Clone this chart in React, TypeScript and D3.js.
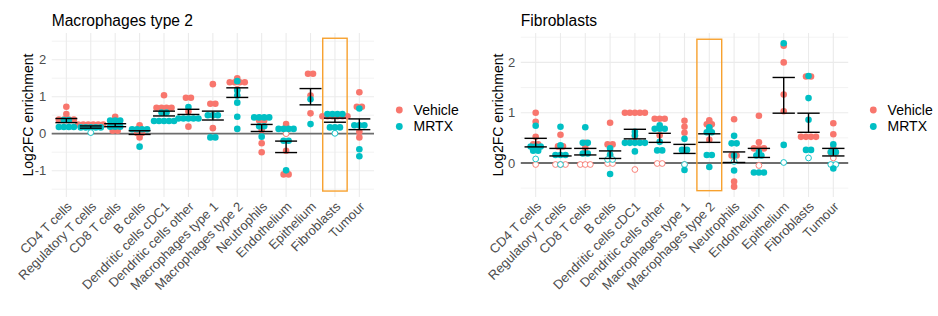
import { useEffect, useRef } from 'react';
import * as d3 from 'd3';

const categories = [
    'CD4 T cells', 'Regulatory T cells', 'CD8 T cells', 'B cells', 'Dendritic cells cDC1',
    'Dendritic cells other', 'Macrophages type 1', 'Macrophages type 2', 'Neutrophils',
    'Endothelium', 'Epithelium', 'Fibroblasts', 'Tumour',
];
const groups = ['Vehicle', 'MRTX'];
const groupColors = ['#F8766D', '#00BFC4'];

// Panel 1: Macrophages type 2
const m2Vehicle = [
    [0.73, 0.53, 0.38, 0.38, 0.38, 0.38],
    [0.25, 0.25, 0.25, 0.25, 0.25, 0.25],
    [0.46, 0.2, 0.2, 0.08, 0.08],
    [0.23, 0.02, 0.02, -0.1],
    [1.04, 0.7, 0.7, 0.7, 0.7],
    [0.97, 0.97, 0.6, 0.19],
    [1.34, 0.81, 0.81, 0.5, 0.15],
    [1.5, 1.39, 1.39, 1.39, 1.39, 1.2],
    [0.36, 0.36, 0.1, -0.26, -0.5],
    [0.26, -0.46, -1.1, -1.1],
    [1.62, 1.62, 1.03, 0.55],
    [0.47, 0.47, 0.47, 0.47, 0.47, 0.47],
    [1.12, 0.73, 0.73, 0.05, -0.1],
];
const m2VehicleOpen = [[], [], [], [], [], [], [], [], [], [0.0], [], [], []];
const m2Mrtx = [
    [0.37, 0.37, 0.18, 0.18, 0.18, 0.18],
    [0.17, 0.17, 0.17, 0.17, 0.17],
    [0.37, 0.36, 0.34, 0.19, 0.19, 0.19],
    [0.12, 0.12, 0.12, 0.12, -0.35],
    [0.6, 0.55, 0.37, 0.37, 0.37, 0.3, 0.3],
    [0.72, 0.41, 0.41, 0.41, 0.41, 0.41],
    [0.5, 0.5, 0.5, -0.1, -0.1],
    [1.42, 1.17, 1.03, 0.84, 0.46, 0.13],
    [0.44, 0.44, 0.44, 0.44, 0.2, 0.2, -0.08],
    [0.13, 0.13, 0.13, 0.13, -0.19, -0.19, -0.99],
    [0.93, 0.26],
    [0.53, 0.53, 0.53, 0.53, 0.17, 0.17, 0.17],
    [0.68, 0.23, 0.23, 0.23, -0.42, -0.61],
];
const m2MrtxOpen = [[], [0.03], [], [], [], [], [], [], [], [], [], [0.01], []];
const m2ErrLo = [0.3, 0.15, 0.19, -0.02, 0.48, 0.52, 0.37, 0.98, 0.06, -0.51, 0.78, 0.31, 0.11];
const m2ErrHi = [0.41, 0.21, 0.27, 0.08, 0.61, 0.66, 0.61, 1.24, 0.25, -0.2, 1.22, 0.42, 0.4];
const m2Ticks = [-1, 0, 1, 2];
const m2Box = ['Fibroblasts', -1.55, 2.58] as const;

// Panel 2: Fibroblasts
const fibVehicle = [
    [1.0, 0.82, 0.52, 0.38, 0.36],
    [0.56, 0.33, 0.33],
    [0.4, 0.3, 0.2],
    [0.8, 0.37, 0.37, 0.15],
    [1.0, 1.0, 1.0, 1.0, 1.0, 0.52],
    [0.88, 0.88, 0.88, 0.55],
    [0.84, 0.72, 0.6, 0.25],
    [0.85, 0.77, 0.77, 0.68, 0.46],
    [0.87, 0.15, 0.15, -0.37, -0.47],
    [0.94, 0.41, 0.29, 0.29, 0.29],
    [2.33, 2.0, 1.36, 1.03],
    [1.72, 1.72, 0.52, 0.52, 0.52, 0.52],
    [0.79, 0.57, 0.29, 0.21, 0.21],
];
const fibVehicleOpen = [
    [-0.03], [-0.03, -0.03, -0.03], [-0.03, -0.03, -0.03], [-0.01, -0.01], [-0.13], [-0.01, -0.01],
    [-0.03], [], [], [-0.05], [], [], [0.1],
];
const fibMrtx = [
    [0.74, 0.35, 0.33, 0.3, 0.25, 0.24],
    [0.72, 0.35, 0.16, 0.16, 0.16],
    [0.71, 0.4, 0.4, 0.19, 0.19],
    [0.29, 0.17, -0.22],
    [0.62, 0.55, 0.4, 0.4, 0.4, 0.4, 0.4, 0.23],
    [0.75, 0.68, 0.68, 0.68, 0.42, 0.25, 0.25],
    [0.48, 0.26, 0.26, -0.14],
    [0.71, 0.62, 0.6, 0.16, 0.16, -0.08],
    [0.54, 0.39, 0.39, 0.15, -0.15],
    [0.22, 0.15, 0.15, -0.19, -0.19, -0.19],
    [2.38, 0.36],
    [1.73, 1.29, 0.86, 0.26, 0.26],
    [0.37, 0.22, 0.22, -0.11],
];
const fibMrtxOpen = [[0.08], [-0.03], [], [0.07, 0.07], [], [], [-0.03], [], [0.03], [], [0.01], [0.1], [-0.03, -0.03]];
const fibErrLo = [0.32, 0.14, 0.16, 0.09, 0.48, 0.41, 0.19, 0.41, 0.01, 0.11, 0.99, 0.61, 0.14];
const fibErrHi = [0.49, 0.29, 0.29, 0.24, 0.67, 0.59, 0.37, 0.58, 0.22, 0.29, 1.7, 0.99, 0.29];
const fibTicks = [0, 1, 2];
const fibBox = ['Macrophages type 2', -0.55, 2.46] as const;

const FONT = '"Liberation Sans", Arial, sans-serif';
const WIDTH = 938;
const HEIGHT = 316;

interface Dot {
    v: number;
    open: boolean;
}

const panels = [
    {
        title: 'Macrophages type 2',
        left: 51.7, right: 374, top: 33, bottom: 197,
        domain: [-1.711, 2.722],
        ticks: m2Ticks,
        series: [[m2Vehicle, m2VehicleOpen], [m2Mrtx, m2MrtxOpen]],
        errLo: m2ErrLo, errHi: m2ErrHi,
        box: m2Box,
        yTitleX: 32.5,
        legendX: 399.3,
    },
    {
        title: 'Fibroblasts',
        left: 520.8, right: 848.2, top: 33, bottom: 197,
        domain: [-0.676, 2.584],
        ticks: fibTicks,
        series: [[fibVehicle, fibVehicleOpen], [fibMrtx, fibMrtxOpen]],
        errLo: fibErrLo, errHi: fibErrHi,
        box: fibBox,
        yTitleX: 503.3,
        legendX: 873.3,
    },
];

// centred dot stacking: values closer than binPx share a row
function stackDots(dots: Dot[], y: (v: number) => number, binPx: number, gap: number) {
    const sorted = [...dots].sort((a, b) => b.v - a.v);
    const rows: Dot[][] = [];
    sorted.forEach((d) => {
        const row = rows[rows.length - 1];
        if (row && Math.abs(y(row[0].v) - y(d.v)) < binPx) row.push(d);
        else rows.push([d]);
    });
    const out: { cy: number; dx: number; open: boolean }[] = [];
    rows.forEach((row) => {
        const cy = d3.mean(row, (d) => y(d.v)) as number;
        row.forEach((d, i) => out.push({ cy, dx: (i - (row.length - 1) / 2) * gap, open: d.open }));
    });
    return out;
}

export default function App() {
    const svgRef = useRef<SVGSVGElement>(null);

    useEffect(() => {
        if (!svgRef.current) return;
        const svg = d3.select(svgRef.current);
        svg.selectAll('*').remove();

        svg.append('rect').attr('width', WIDTH).attr('height', HEIGHT).attr('fill', '#fff');

        panels.forEach((p) => {
            const x = d3.scalePoint<string>().domain(categories).range([p.left, p.right]).padding(0.6);
            const y = d3.scaleLinear().domain(p.domain).range([p.bottom, p.top]);
            const step = x.step();
            const g = svg.append('g');

            // minor grid
            const minor = d3.range(Math.ceil(p.domain[0] * 2) / 2, p.domain[1], 0.5).filter((v) => !Number.isInteger(v));
            g.selectAll('.minor')
                .data(minor)
                .enter()
                .append('line')
                .attr('x1', p.left).attr('x2', p.right)
                .attr('y1', (d) => y(d)).attr('y2', (d) => y(d))
                .attr('stroke', '#EBEBEB').attr('stroke-width', 0.6);

            // major grid
            g.selectAll('.major')
                .data(p.ticks)
                .enter()
                .append('line')
                .attr('x1', p.left).attr('x2', p.right)
                .attr('y1', (d) => y(d)).attr('y2', (d) => y(d))
                .attr('stroke', '#EBEBEB').attr('stroke-width', 1.1);

            g.selectAll('.vgrid')
                .data(categories)
                .enter()
                .append('line')
                .attr('x1', (d) => x(d)!).attr('x2', (d) => x(d)!)
                .attr('y1', p.top).attr('y2', p.bottom)
                .attr('stroke', '#EBEBEB').attr('stroke-width', 1.1);

            // zero line
            g.append('line')
                .attr('x1', p.left).attr('x2', p.right)
                .attr('y1', y(0)).attr('y2', y(0))
                .attr('stroke', '#6E6E6E').attr('stroke-width', 1.8);

            // highlight box
            const [boxCat, boxLo, boxHi] = p.box;
            g.append('rect')
                .attr('x', x(boxCat)! - step * 0.5)
                .attr('y', y(boxHi))
                .attr('width', step)
                .attr('height', y(boxLo) - y(boxHi))
                .attr('fill', 'none')
                .attr('stroke', '#F7A12E')
                .attr('stroke-width', 1.4);

            // dots
            p.series.forEach(([filled, open], gi) => {
                categories.forEach((cat, ci) => {
                    const dots: Dot[] = [
                        ...filled[ci].map((v) => ({ v, open: false })),
                        ...open[ci].map((v) => ({ v, open: true })),
                    ];
                    const placed = stackDots(dots, y, 3.5, 5);
                    placed.forEach((d) => {
                        g.append('circle')
                            .attr('cx', x(cat)! + d.dx)
                            .attr('cy', d.cy)
                            .attr('r', d.open ? 2.9 : 3.3)
                            .attr('fill', d.open ? '#fff' : groupColors[gi])
                            .attr('stroke', d.open ? groupColors[gi] : 'none')
                            .attr('stroke-width', 0.9);
                    });
                });
            });

            // error bars
            categories.forEach((cat, ci) => {
                const cx = x(cat)!;
                const lo = y(p.errLo[ci]);
                const hi = y(p.errHi[ci]);
                const hw = step * 0.45;
                const eb = g.append('g').attr('stroke', '#000').attr('stroke-width', 1.4);
                eb.append('line').attr('x1', cx).attr('x2', cx).attr('y1', lo).attr('y2', hi);
                eb.append('line').attr('x1', cx - hw).attr('x2', cx + hw).attr('y1', lo).attr('y2', lo);
                eb.append('line').attr('x1', cx - hw).attr('x2', cx + hw).attr('y1', hi).attr('y2', hi);
            });

            // y tick labels
            g.selectAll('.ytick')
                .data(p.ticks)
                .enter()
                .append('text')
                .attr('x', p.left - 5.5)
                .attr('y', (d) => y(d))
                .attr('dy', '0.35em')
                .attr('text-anchor', 'end')
                .attr('font-family', FONT)
                .attr('font-size', 13)
                .attr('fill', '#4D4D4D')
                .text((d) => d3.format('d')(d).replace('−', '-'));

            // x tick labels
            g.selectAll('.xtick')
                .data(categories)
                .enter()
                .append('text')
                .attr('transform', (d) => `translate(${x(d)! + 6.3},${p.bottom + 10.4}) rotate(-45)`)
                .attr('text-anchor', 'end')
                .attr('font-family', FONT)
                .attr('font-size', 13)
                .attr('fill', '#4D4D4D')
                .text((d) => d);

            // y title
            g.append('text')
                .attr('transform', `translate(${p.yTitleX},${(p.top + p.bottom) / 2}) rotate(-90)`)
                .attr('text-anchor', 'middle')
                .attr('font-family', FONT)
                .attr('font-size', 14)
                .attr('fill', '#000')
                .text('Log2FC enrichment');

            // title
            g.append('text')
                .attr('x', p.left)
                .attr('y', 26)
                .attr('font-family', FONT)
                .attr('font-size', 15.6)
                .attr('fill', '#000')
                .text(p.title);

            // legend
            groups.forEach((name, i) => {
                const ly = 110 + i * 16.5;
                g.append('circle').attr('cx', p.legendX).attr('cy', ly).attr('r', 3.4).attr('fill', groupColors[i]);
                g.append('text')
                    .attr('x', p.legendX + 14.3)
                    .attr('y', ly)
                    .attr('dy', '0.35em')
                    .attr('font-family', FONT)
                    .attr('font-size', 14)
                    .attr('fill', '#000')
                    .text(name);
            });
        });
    }, []);

    return (
        <svg
            ref={svgRef}
            width={WIDTH}
            height={HEIGHT}
            style={{ position: 'absolute', left: 0, top: 0 }}
        />
    );
}
